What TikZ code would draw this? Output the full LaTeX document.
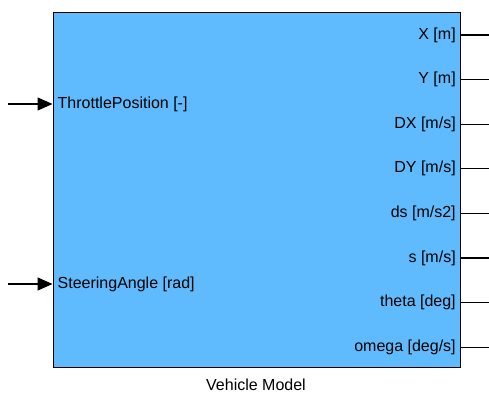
\documentclass[tikz,border=0pt]{standalone}
\usepackage{fontspec}
\setmainfont{Liberation Sans}
\usetikzlibrary{arrows.meta}
\definecolor{blockblue}{HTML}{5FBBFD}

\begin{document}
\begin{tikzpicture}[x=1pt,y=-1pt,font=\fontsize{16}{19}\selectfont,
    port/.style={inner sep=0pt},
    wire/.style={line width=1.3pt}]
            \useasboundingbox (0,0) rectangle (489,394);
            \node[draw,line width=1.4pt,fill=blockblue,anchor=north west,inner sep=0pt,
                  minimum width=407pt,minimum height=355pt] (model) at (52.5,12) {};
            \node[port] (caption) at (256,385) {Vehicle Model};
            \foreach \lbl [count=\i] in {ThrottlePosition [-], SteeringAngle [rad]} {
                \coordinate (in\i) at (8,{104+(\i-1)*180});
                \draw[wire,-{Triangle[length=15pt,width=13pt]}] (in\i) -- (model.west |- in\i);
                \node[port,anchor=west] (inlbl\i) at ([xshift=5pt]model.west |- in\i) {\lbl};
            }
            \foreach \lbl [count=\i] in {X [m], Y [m], DX [m/s], DY [m/s], ds [m/s2], s [m/s], theta [deg], omega [deg/s]} {
                \coordinate (out\i) at (489,{35+(\i-1)*44.6});
                \draw[wire] (model.east |- out\i) -- (out\i);
                \node[port,anchor=east] (outlbl\i) at ([xshift=-5pt]model.east |- out\i) {\lbl};
            }
        \end{tikzpicture}
\end{document}
